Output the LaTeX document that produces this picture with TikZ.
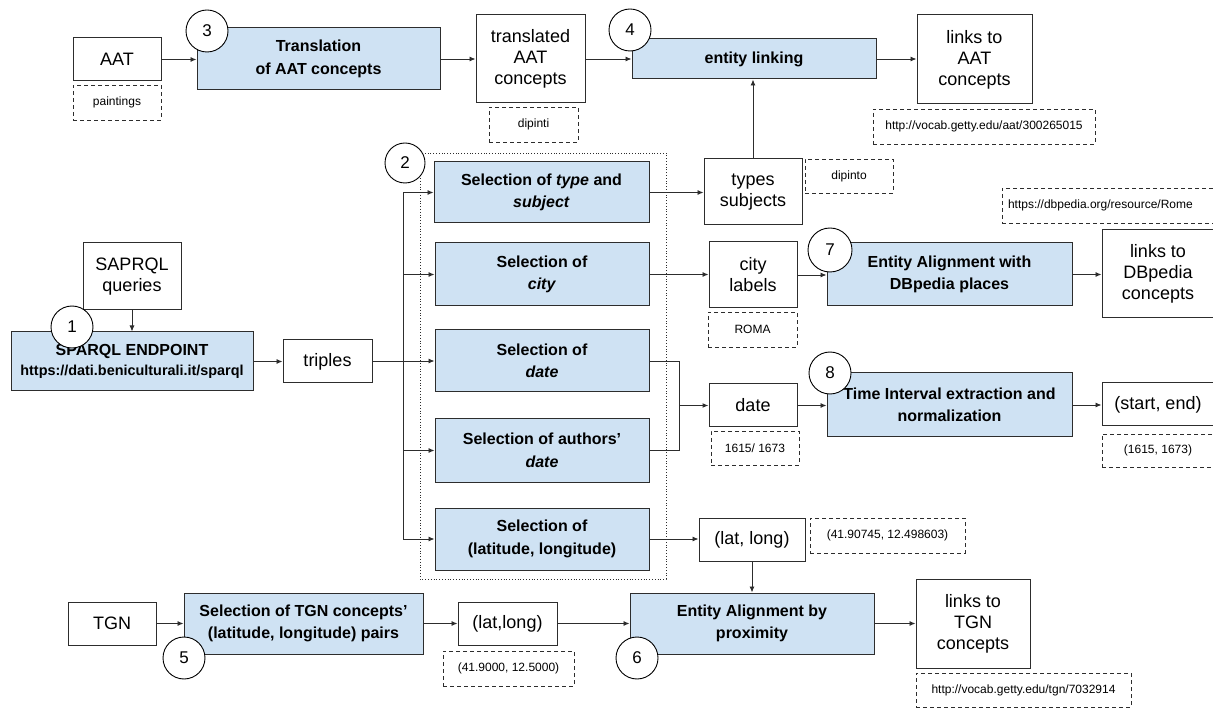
\documentclass[tikz,border=0pt]{standalone}
\usepackage{fontspec}
\setmainfont{Liberation Sans}
\usetikzlibrary{arrows.meta,positioning}
\definecolor{procfill}{RGB}{207,226,243}
\definecolor{edgegray}{RGB}{45,45,45}
\newcommand{\regfont}{\fontsize{18}{21}\selectfont}
\newcommand{\procfont}{\fontsize{16}{22.5}\selectfont\bfseries}
\newcommand{\exfont}{\fontsize{12}{14}\selectfont}
\tikzset{
  sz/.style 2 args={minimum width=#1pt, minimum height=#2pt},
  proc/.style={draw=edgegray, fill=procfill, line width=1pt, align=center,
               inner sep=0pt, font=\procfont},
  dat/.style={draw=edgegray, fill=white, line width=1pt, align=center,
              inner sep=0pt, font=\regfont},
  ex/.style={draw=edgegray, dash pattern=on 4pt off 3pt, line width=0.9pt,
             align=center, inner sep=0pt, font=\exfont},
  num/.style={circle, draw=black, fill=white, line width=0.9pt,
              minimum size=42pt, inner sep=0pt, font=\fontsize{17}{17}\selectfont},
  arr/.style={-{Latex[length=6pt,width=5pt]}, line width=0.9pt, edgegray},
  grp/.style={draw=edgegray, dotted, line width=0.8pt},
}

\begin{document}
\begin{tikzpicture}[x=1pt, y=-1pt]
  \useasboundingbox (0,0) rectangle (1213,708);
  \clip (0,0) rectangle (1213,708);

  % step 2 group
  \draw[grp] (420,153) rectangle (666,579);

  % top row: AAT
  \node[dat, sz={88}{43}] (aat) at (117,59.5) {AAT};
  \node[ex, sz={88}{35}] (aatex) at (117,102.5) {paintings};
  \node[proc, sz={243}{62}] (transl) at (318.5,59) {Translation\\of AAT concepts};
  \node[dat, sz={109}{88}] (translated) at (530.5,59) {translated\\AAT\\concepts};
  \node[ex, sz={89}{35}] (translex) at (533.5,124.5) {dipinti};
  \node[proc, sz={244}{40}] (link) at (754,59) {entity linking};
  \node[dat, sz={115}{89}] (aatlinks) at (974.5,59.5) {links to\\AAT\\concepts};
  \node[ex, sz={222}{35}] (aaturl) at (984,126.5) {http://vocab.getty.edu/aat/300265015};

  % endpoint
  \node[dat, sz={98}{67}] (queries) at (132,276.5) {SAPRQL\\queries};
  \node[proc, sz={242}{59}] (sparql) at (132,361.5)
    {SPARQL ENDPOINT\\[-2pt]{\fontsize{14.4}{18}\selectfont https://dati.beniculturali.it/sparql}};
  \node[dat, sz={89}{43}] (triples) at (327.5,361.5) {triples};

  % selections
  \node[proc, sz={215}{61}] (seltype) at (541.5,192.5) {Selection of \textit{type} and\\\textit{subject}};
  \node[proc, sz={214}{63}] (selcity) at (542,274.5) {Selection of\\\textit{city}};
  \node[proc, sz={214}{62}] (seldate) at (542,361) {Selection of\\\textit{date}};
  \node[proc, sz={214}{63}] (selauth) at (542,450.5) {Selection of authors’\\\textit{date}};
  \node[proc, sz={214}{62}] (selll) at (542,539) {Selection of\\(latitude, longitude)};

  % selected values
  \node[dat, sz={98}{66}] (typesubj) at (753,192) {types\\subjects};
  \node[ex, sz={88}{34}] (typesubjex) at (849,176) {dipinto};
  \node[dat, sz={88}{66}] (citylab) at (753,275) {city\\labels};
  \node[ex, sz={89}{35}] (citylabex) at (752.5,329.5) {ROMA};
  \node[dat, sz={88}{43}] (date) at (753,405.5) {date};
  \node[ex, sz={88}{34}] (dateex) at (755,448) {1615/ 1673};
  \node[dat, sz={106}{43}] (latlong) at (752,539.5) {(lat, long)};
  \node[ex, sz={155}{35}] (latlongex) at (887.5,535.5) {(41.90745, 12.498603)};

  % right column
  \node[proc, sz={245}{63}] (dbal) at (949.5,274.5) {Entity Alignment with\\DBpedia places};
  \node[dat, sz={112}{88}] (dblinks) at (1158,274) {links to\\DBpedia\\concepts};
  \node[ex, sz={214}{35}, text width=202pt, align=left, inner xsep=6pt] (dburl) at (1109,205.5)
    {https://dbpedia.org/resource/Rome};
  \node[proc, sz={245}{64}] (timeint) at (949.5,405) {Time Interval extraction and\\normalization};
  \node[dat, sz={112}{43}] (startend) at (1158,404.5) {(start, end)};
  \node[ex, sz={112}{33}] (startendex) at (1158,450.5) {(1615, 1673)};

  % bottom row: TGN
  \node[dat, sz={88}{43}] (tgn) at (112,623.5) {TGN};
  \node[proc, sz={239}{61}] (seltgn) at (303.5,623.5) {Selection of TGN concepts’\\(latitude, longitude) pairs};
  \node[dat, sz={99}{43}] (tgnll) at (507.5,623.5) {(lat,long)};
  \node[ex, sz={131}{35}] (tgnllex) at (508.5,668.5) {(41.9000, 12.5000)};
  \node[proc, sz={244}{61}] (prox) at (752,623.5) {Entity Alignment by\\proximity};
  \node[dat, sz={114}{89}] (tgnlinks) at (973,623.5) {links to\\TGN\\concepts};
  \node[ex, sz={215}{34}] (tgnurl) at (1023.5,690) {http://vocab.getty.edu/tgn/7032914};

  % connectors
  \draw[arr] (aat.east) -- (aat.east -| transl.west);
  \draw[arr] (transl.east) -- (transl.east -| translated.west);
  \draw[arr] (translated.east) -- (translated.east -| link.west);
  \draw[arr] (link.east) -- (link.east -| aatlinks.west);
  \draw[arr] (typesubj.north) -- (typesubj.north |- link.south);
  \draw[arr] (queries.south) -- (queries.south |- sparql.north);
  \draw[arr] (sparql.east) -- (sparql.east -| triples.west);

  \coordinate (fork) at (403,361.5);
  \draw[line width=1.8pt, edgegray] (triples.east) -- (fork);
  \draw[line width=0.9pt, edgegray] (fork |- seltype.west) -- (fork |- selll.west);
  \foreach \s in {seltype,selcity,seldate,selauth,selll}
    \draw[arr] (fork |- \s.west) -- (\s.west);

  \draw[arr] (seltype.east) -- (seltype.east -| typesubj.west);
  \draw[arr] (selcity.east) -- (selcity.east -| citylab.west);
  \draw[arr] (citylab.east) -- (citylab.east -| dbal.west);
  \draw[arr] (dbal.east) -- (dbal.east -| dblinks.west);

  \coordinate (merge) at (679,405.5);
  \draw[line width=0.9pt, edgegray] (seldate.east) -| (merge);
  \draw[line width=0.9pt, edgegray] (selauth.east) -| (merge);
  \draw[arr, line width=1.4pt] (merge) -- (date.west);
  \draw[arr] (date.east) -- (date.east -| timeint.west);
  \draw[arr] (timeint.east) -- (timeint.east -| startend.west);

  \draw[arr] (selll.east) -- (selll.east -| latlong.west);
  \draw[arr] (latlong.south) -- (latlong.south |- prox.north);

  \draw[arr] (tgn.east) -- (tgn.east -| seltgn.west);
  \draw[arr] (seltgn.east) -- (seltgn.east -| tgnll.west);
  \draw[arr] (tgnll.east) -- (tgnll.east -| prox.west);
  \draw[arr] (prox.east) -- (prox.east -| tgnlinks.west);

  % step numbers
  \node[num] (n1) at (72,327) {1};
  \node[num, minimum size=40pt] (n2) at (405,163) {2};
  \node[num] (n3) at (207,31) {3};
  \node[num] (n4) at (630,30) {4};
  \node[num] (n5) at (184,658) {5};
  \node[num] (n6) at (637,658) {6};
  \node[num, minimum size=44pt] (n7) at (830,250) {7};
  \node[num] (n8) at (830,373) {8};
\end{tikzpicture}
\end{document}
